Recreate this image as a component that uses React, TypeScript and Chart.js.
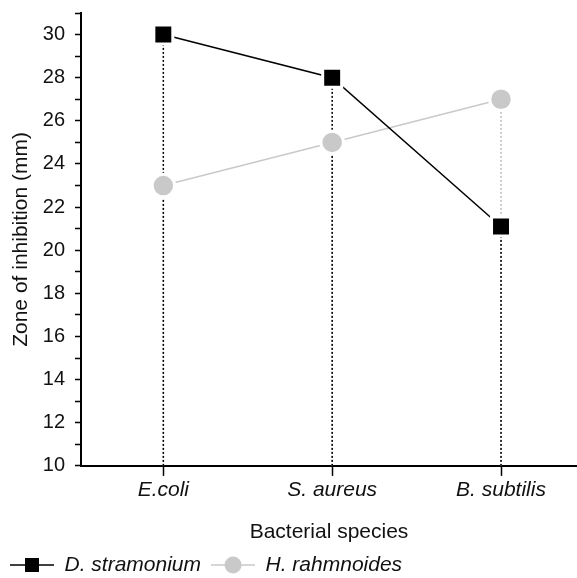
import React, { useEffect, useRef } from 'react';
import { Chart, registerables } from 'chart.js';

Chart.register(...registerables);

const categories = ['E.coli', 'S. aureus', 'B. subtilis'];
const seriesNames = ['D. stramonium', 'H. rahmnoides'];
const stramoniumValues = [30, 28, 21.1];
const rahmnoidesValues = [23, 25, 27];
const yTickLabels = ['10', '12', '14', '16', '18', '20', '22', '24', '26', '28', '30'];
const yMin = 10;
const yMax = 31;

const FONT = '"Liberation Sans", Arial, Helvetica, sans-serif';
const BLACK = '#000000';
const GREY = '#c9c9c9';
const GREY_DROP = '#bdbdbd';
const TEXT = '#111111';

function makeIcon(lineColor: string, fill: string, shape: 'rect' | 'circle'): HTMLCanvasElement {
  const c = document.createElement('canvas');
  c.width = 44;
  c.height = 20;
  const ctx = c.getContext('2d')!;
  ctx.strokeStyle = lineColor;
  ctx.lineWidth = 1.5;
  ctx.beginPath();
  ctx.moveTo(0, 10);
  ctx.lineTo(44, 10);
  ctx.stroke();
  ctx.fillStyle = fill;
  if (shape === 'rect') {
    ctx.fillRect(22 - 7, 10 - 7, 14, 14);
  } else {
    ctx.beginPath();
    ctx.arc(22, 10, 8.5, 0, Math.PI * 2);
    ctx.fill();
  }
  return c;
}

export default function App() {
  const ref = useRef<HTMLCanvasElement | null>(null);

  useEffect(() => {
    if (!ref.current) return;
    const icons = [makeIcon(BLACK, BLACK, 'rect'), makeIcon(GREY, GREY, 'circle')];

    const dropSets: any[] = [];
    rahmnoidesValues.forEach((v, j) => {
      dropSets.push({
        type: 'line',
        data: [{ x: j, y: yMin }, { x: j, y: v }],
        borderColor: GREY_DROP,
        borderWidth: 1.5,
        borderDash: [2, 2],
        pointRadius: 0,
        order: 6,
      });
    });
    stramoniumValues.forEach((v, j) => {
      dropSets.push({
        type: 'line',
        data: [{ x: j, y: yMin }, { x: j, y: v }],
        borderColor: BLACK,
        borderWidth: 1.5,
        borderDash: [2, 2],
        pointRadius: 0,
        order: 5,
      });
    });

    const chart = new Chart(ref.current, {
      type: 'line',
      data: {
        datasets: [
          {
            label: seriesNames[0],
            data: stramoniumValues.map((v, j) => ({ x: j, y: v })),
            borderColor: BLACK,
            borderWidth: 1.5,
            pointStyle: 'rect',
            pointRadius: 13.4,
            pointBackgroundColor: BLACK,
            pointBorderColor: '#ffffff',
            pointBorderWidth: 3,
            order: 1,
          },
          {
            label: seriesNames[1],
            data: rahmnoidesValues.map((v, j) => ({ x: j, y: v })),
            borderColor: GREY,
            borderWidth: 1.5,
            pointStyle: 'circle',
            pointRadius: 11.25,
            pointBackgroundColor: GREY,
            pointBorderColor: '#ffffff',
            pointBorderWidth: 3,
            order: 2,
          },
          ...dropSets,
        ] as any,
      },
      options: {
        animation: false,
        responsive: true,
        maintainAspectRatio: false,
        layout: { autoPadding: false, padding: { top: 13, right: 0, left: 0, bottom: -7.5 } },
        plugins: {
          tooltip: { enabled: false },
          legend: {
            position: 'bottom',
            align: 'start',
            labels: {
              usePointStyle: true,
              pointStyleWidth: 44,
              padding: 10,
              color: TEXT,
              font: { family: FONT, size: 21, style: 'italic' },
              generateLabels: () =>
                seriesNames.map((name, i) => ({
                  text: name,
                  pointStyle: icons[i] as any,
                  datasetIndex: i,
                  fillStyle: 'transparent',
                  strokeStyle: 'transparent',
                  lineWidth: 0,
                  hidden: false,
                  fontColor: TEXT,
                })),
            },
          },
        },
        scales: {
          x: {
            type: 'linear',
            min: -0.4876,
            max: 2.45,
            afterBuildTicks: (s: any) => {
              s.ticks = categories.map((_, j) => ({ value: j }));
            },
            afterFit: (s: any) => {
              s.height = 78.6;
              s.paddingLeft = 0;
              s.paddingRight = 0;
              s.paddingTop = 0;
              s.paddingBottom = 0;
            },
            ticks: {
              autoSkip: false,
              maxRotation: 0,
              padding: 2,
              color: TEXT,
              font: { family: FONT, size: 21, style: 'italic' },
              callback: (v: any) => categories[Math.round(Number(v))] ?? '',
            },
            grid: {
              drawOnChartArea: false,
              drawTicks: true,
              tickLength: 10,
              tickColor: BLACK,
              tickWidth: 1.5,
            },
            border: { display: true, color: BLACK, width: 2 },
            title: {
              display: true,
              text: 'Bacterial species',
              color: TEXT,
              font: { family: FONT, size: 21 },
              padding: { top: 0, bottom: 0 },
            },
          },
          y: {
            type: 'linear',
            min: yMin,
            max: yMax,
            afterFit: (s: any) => {
              s.width = 81;
              s.paddingLeft = 0;
              s.paddingRight = 0;
              s.paddingTop = 0;
              s.paddingBottom = 0;
            },
            ticks: {
              stepSize: 1,
              autoSkip: false,
              padding: 10,
              color: TEXT,
              font: { family: FONT, size: 20 },
              callback: (v: any) => (yTickLabels.includes(String(v)) ? String(v) : ''),
            },
            grid: {
              drawOnChartArea: false,
              drawTicks: true,
              tickLength: 6,
              tickColor: BLACK,
              tickWidth: 1.5,
            },
            border: { display: true, color: BLACK, width: 2 },
            title: {
              display: true,
              text: 'Zone of inhibition (mm)',
              color: TEXT,
              font: { family: FONT, size: 21 },
              padding: { top: 9, bottom: 0 },
            },
          },
        },
      } as any,
    });
    return () => chart.destroy();
  }, []);

  return (
    <div style={{ position: 'absolute', left: 0, top: 0, width: 577, height: 578, background: '#ffffff', overflow: 'hidden' }}>
      <canvas ref={ref} style={{ display: 'block' }} />
    </div>
  );
}
